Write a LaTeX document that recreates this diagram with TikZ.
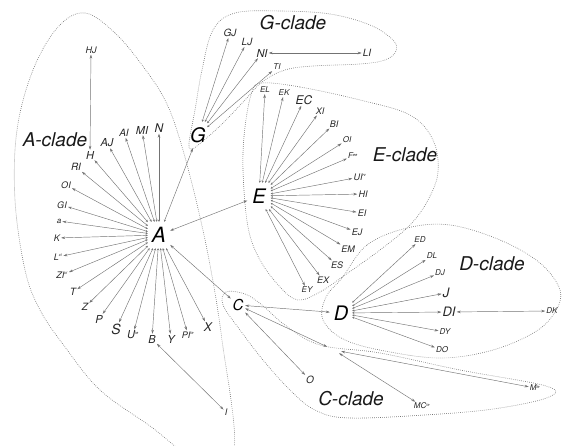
\documentclass[tikz,border=0pt]{standalone}
\usepackage{fontspec}
\setmainfont{TeX Gyre Heros}
\usetikzlibrary{arrows.meta}
\newcommand{\sps}[1]{\textsuperscript{\fontsize{4}{4}\selectfont #1}}
\begin{document}
\begin{tikzpicture}[x=1pt,y=-1pt,
  lab/.style={font=\itshape\fontsize{#1}{#1}\selectfont, inner sep=1pt, text=black!85},
  lab/.default=9,
  hub/.style={font=\itshape\fontsize{#1}{#1}\selectfont, inner sep=0pt, text=black},
  clade/.style={font=\itshape\fontsize{19}{19}\selectfont, inner sep=0pt, text=black!90},
  link/.style={draw=black!55, line width=0.45pt,
    {Stealth[length=2.2pt,width=2.2pt]}-{Stealth[length=4pt,width=2.6pt]}},
  both/.style={draw=black!55, line width=0.45pt,
    {Stealth[length=4pt,width=2.6pt]}-{Stealth[length=4pt,width=2.6pt]}},
  hull/.style={draw=black!55, line width=0.6pt, dash pattern=on 0.7pt off 1.3pt}]
\path[use as bounding box] (0,0) rectangle (568,446);
\clip (0,0) rectangle (568,446);

% clade outlines
\draw[hull] plot[smooth cycle, tension=0.6] coordinates {
  (85,13) (115,33) (142,65) (165,100) (180,140) (196,200) (210,265)
  (222,340) (234,450) (200,462) (150,426) (100,390) (65,347) (40,310)
  (25,270) (15,200) (17,130) (33,70) (58,27)};
\draw[hull] plot[smooth cycle, tension=0.6] coordinates {
  (189,143) (195,110) (202,70) (213,30) (235,13) (280,11) (330,14)
  (370,25) (393,40) (396,51) (385,60) (360,64) (313,66) (285,70)
  (262,82) (245,100) (222,124) (203,141) (192,149)};
\draw[hull] plot[smooth cycle, tension=0.6] coordinates {
  (262,83) (300,87) (360,100) (410,115) (433,140) (438,172) (428,200)
  (410,225) (380,250) (345,275) (320,292) (298,300) (280,287) (260,260)
  (248,227) (243,170) (245,127) (252,92)};
\draw[hull] plot[smooth cycle, tension=0.6] coordinates {
  (342,278) (367,245) (407,228) (450,225) (500,240) (540,263) (560,290)
  (555,312) (535,332) (493,350) (443,358) (390,352) (345,340) (323,320)
  (326,297)};
\draw[hull] plot[smooth cycle, tension=0.6] coordinates {
  (226,292) (245,294) (262,305) (285,325) (320,345) (380,353) (460,370)
  (546,386) (549,397) (500,408) (440,414) (350,418) (315,410) (290,390)
  (263,360) (240,330) (223,305)};

% clade names
\node[clade] (cA) at (55,140) {A-clade};
\node[clade] (cG) at (293,23) {G-clade};
\node[clade] (cE) at (405,155) {E-clade};
\node[clade] (cD) at (492,264) {D-clade};
\node[clade] (cC) at (351,399) {C-clade};

% hubs
\node[hub=21, minimum width=22pt, minimum height=26pt] (A) at (159,235) {A};
\node[hub=20, minimum width=23pt, minimum height=26pt] (E) at (259,196) {E};
\node[hub=20, minimum width=18pt, minimum height=26pt] (G) at (198,135) {G};
\node[hub=20, minimum width=22pt, minimum height=26pt] (D) at (341,313) {D};
\node[hub=15, minimum width=14pt, minimum height=16pt] (C) at (238,305) {C};
\node[inner sep=0pt, minimum width=14pt, minimum height=6pt] (mc) at (334,350) {};

% A-clade members
\node[lab=9]  (HJ) at (91,50) {HJ};
\node[lab=11] (H)  at (90,155) {H};
\node[lab=11] (AJ) at (107,143) {AJ};
\node[lab=10] (AI) at (124,133) {AI};
\node[lab=11] (MI) at (142,130) {MI};
\node[lab=12] (N)  at (159,128) {N};
\node[lab=10] (RI) at (76,167) {RI};
\node[lab=9]  (aOI) at (66,185) {OI};
\node[lab=9]  (GI) at (62,205) {GI};
\node[lab=8]  (sa) at (59,221) {a};
\node[lab=9]  (K)  at (57,238) {K};
\node[lab=9]  (L)  at (58,257) {L\sps{ci}};
\node[lab=9]  (ZI) at (62,275) {ZI\sps{ci}};
\node[lab=10] (T)  at (73,292) {T};
\node[lab=10] (Z)  at (85,307) {Z};
\node[lab=11] (P)  at (99,319) {P};
\node[lab=14] (S)  at (116,329) {S};
\node[lab=11] (U)  at (133,335) {U\sps{ie}};
\node[lab=11] (B)  at (152,339) {B};
\node[lab=11] (Y)  at (171,339) {Y};
\node[lab=9]  (PI) at (188,335) {PI\sps{ie}};
\node[lab=12] (X)  at (208,327) {X};
\node[lab=9]  (I)  at (226,412) {I};

% E-clade members
\node[lab=8]  (EL) at (265,90) {EL};
\node[lab=8]  (EK) at (284,93) {EK};
\node[lab=12] (EC) at (304,100) {EC};
\node[lab=9]  (XI) at (320,111) {XI};
\node[lab=9]  (BI) at (334,124) {BI};
\node[lab=8]  (eOI) at (347,140) {OI};
\node[lab=8]  (F)  at (353,156) {F\sps{ee}};
\node[lab=9]  (UI) at (360,177) {UI\sps{rv}};
\node[lab=9]  (HI) at (363,194) {HI};
\node[lab=9]  (EI) at (362,213) {EI};
\node[lab=9]  (EJ) at (357,232) {EJ};
\node[lab=9]  (EM) at (348,249) {EM};
\node[lab=9]  (ES) at (337,265) {ES};
\node[lab=9]  (EX) at (323,280) {EX};
\node[lab=8]  (EY) at (307,290) {EY};

% G-clade members
\node[lab=10] (GJ) at (230,33) {GJ};
\node[lab=10] (LJ) at (247,42) {LJ};
\node[lab=11] (NI) at (262,53) {NI};
\node[lab=8]  (TI) at (277,67) {TI};
\node[lab=10] (LI) at (367,53) {LI};

% D-clade members
\node[lab=8]  (ED) at (420,240) {ED};
\node[lab=8]  (DL) at (432,256) {DL};
\node[lab=8]  (DJ) at (440,273) {DJ};
\node[lab=13] (J)  at (446,293) {J};
\node[lab=13] (DI) at (449,312) {DI};
\node[lab=8]  (DY) at (445,332) {DY};
\node[lab=8]  (DO) at (442,350) {DO};
\node[lab=8]  (DK) at (552,311) {DK};

% C-clade members
\node[lab=10] (O)  at (310,380) {O};
\node[lab=8]  (M)  at (535,388) {M\sps{ie}};
\node[lab=8]  (MC) at (422,406) {MC\sps{ie}};

% spokes from each hub
\foreach \n in {H,AJ,AI,MI,N,RI,aOI,GI,sa,K,L,ZI,T,Z,P,S,U,B,Y,PI,X}
  \draw[link] (A) -- (\n);
\foreach \n in {EL,EK,EC,XI,BI,eOI,F,UI,HI,EI,EJ,EM,ES,EX,EY}
  \draw[link] (E) -- (\n);
\foreach \n in {GJ,LJ,NI,TI}
  \draw[link] (G) -- (\n);
\foreach \n in {ED,DL,DJ,J,DI,DY,DO}
  \draw[link] (D) -- (\n);

% links between hubs and pairs of members
\draw[both] (A) -- (E);
\draw[both] (A) -- (C);
\draw[link] (A) -- (G);
\draw[both] (H) -- (HJ);
\draw[both] (B) -- (I);
\draw[both] (NI) -- (LI);
\draw[both] (DI) -- (DK);
\draw[both] (C) -- (D);
\draw[both] (C) -- (O);
\draw[both] (C) -- (mc);
\draw[both] (mc) -- (M);
\draw[both] (mc) -- (MC);
\end{tikzpicture}
\end{document}
